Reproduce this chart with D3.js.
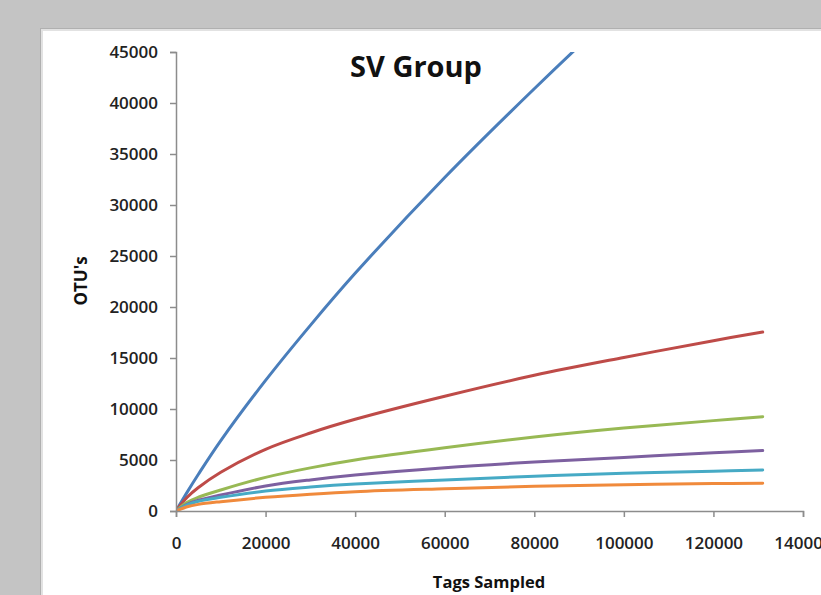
<!DOCTYPE html>
<html>
<head>
<meta charset="utf-8">
<script src="https://cdnjs.cloudflare.com/ajax/libs/d3/7.8.5/d3.min.js"></script>
<style>
  html, body { margin: 0; background: #c4c4c4; overflow: hidden; }
  svg { display: block; overflow: hidden; }
</style>
</head>
<body>
<script>
// tags sampled (x) and OTU counts per sample curve
const tags   = [0, 2500, 5000, 10000, 20000, 30000, 40000, 60000, 80000, 100000, 120000, 131000];
const blue   = [0, 1850, 3600, 6900, 12800, 18200, 23300, 32700, 41400, 49700, 57700, 62000];
const red    = [0, 1350, 2300, 3800, 6050, 7650, 8990, 11250, 13300, 15050, 16700, 17550];
const green  = [0, 850, 1350, 2060, 3300, 4230, 5000, 6200, 7250, 8130, 8860, 9250];
const purple = [0, 650, 1050, 1570, 2450, 3050, 3530, 4250, 4800, 5250, 5700, 5920];
const teal   = [0, 600, 950, 1340, 1960, 2350, 2650, 3050, 3400, 3700, 3900, 4020];
const orange = [0, 420, 650, 915, 1340, 1650, 1895, 2180, 2420, 2580, 2690, 2730];

const yTicks = [0, 5000, 10000, 15000, 20000, 25000, 30000, 35000, 40000, 45000];
const xTicks = [0, 20000, 40000, 60000, 80000, 100000, 120000, 140000];

const series = [
  {values: blue,   color: "#4a7ebb"},
  {values: red,    color: "#be4b48"},
  {values: green,  color: "#98b954"},
  {values: purple, color: "#7d60a0"},
  {values: teal,   color: "#46aac5"},
  {values: orange, color: "#f08a3c"}
];

const w = 821;
const h = 595;
const plotL = 176, plotR = 803, plotT = 52, plotB = 511;

const svg = d3.select("body").append("svg")
  .attr("width", w)
  .attr("height", h);

// white chart panel (runs off the right and bottom edges)
svg.append("rect")
  .attr("x", 40.5).attr("y", 28.5)
  .attr("width", w - 20).attr("height", h)
  .attr("fill", "#ffffff")
  .attr("stroke", "#b0b0b0")
  .attr("stroke-width", 1);
svg.append("rect")
  .attr("x", 41).attr("y", 29)
  .attr("width", w).attr("height", 2)
  .attr("fill", "#e2e2e2");
svg.append("rect")
  .attr("x", 41).attr("y", 29)
  .attr("width", 2).attr("height", h)
  .attr("fill", "#e2e2e2");

const xScale = d3.scaleLinear().domain([0, 140000]).range([plotL, plotR]);
const yScale = d3.scaleLinear().domain([0, 45000]).range([plotB, plotT]);

svg.append("defs").append("clipPath").attr("id", "plot")
  .append("rect")
  .attr("x", plotL).attr("y", plotT)
  .attr("width", plotR - plotL).attr("height", plotB - plotT);

const line = d3.line()
  .x((d, i) => xScale(tags[i]))
  .y(d => yScale(d))
  .curve(d3.curveCatmullRom.alpha(0.5));

svg.append("g")
  .attr("clip-path", "url(#plot)")
  .selectAll("path")
  .data(series)
  .enter()
  .append("path")
  .attr("d", d => line(d.values))
  .attr("fill", "none")
  .attr("stroke", d => d.color)
  .attr("stroke-width", 3)
  .attr("stroke-linecap", "round");

const xAxis = d3.axisBottom(xScale)
  .tickValues(xTicks)
  .tickFormat(d3.format("d"))
  .tickSize(6)
  .tickPadding(20);
const gx = svg.append("g")
  .attr("transform", "translate(0," + plotB + ")")
  .call(xAxis);

const yAxis = d3.axisLeft(yScale)
  .tickValues(yTicks)
  .tickFormat(d3.format("d"))
  .tickSize(6)
  .tickPadding(12);
const gy = svg.append("g")
  .attr("transform", "translate(" + plotL + ",0)")
  .call(yAxis);

[gx, gy].forEach(g => {
  g.select(".domain").attr("stroke", "#8c8c8c").attr("stroke-width", 1.5);
  g.selectAll(".tick line").attr("stroke", "#8c8c8c").attr("stroke-width", 1.5);
  g.selectAll(".tick text")
    .attr("fill", "#222")
    .style("font-family", "'Open Sans', sans-serif")
    .style("font-size", "17px")
    .style("font-weight", "600");
});

svg.append("text")
  .attr("x", 416).attr("y", 77)
  .attr("text-anchor", "middle")
  .style("font-family", "'Open Sans', sans-serif")
  .style("font-size", "29px")
  .style("font-weight", "bold")
  .attr("fill", "#111")
  .text("SV Group");

svg.append("text")
  .attr("x", 489).attr("y", 588)
  .attr("text-anchor", "middle")
  .style("font-family", "'Open Sans', sans-serif")
  .style("font-size", "16.5px")
  .style("font-weight", "bold")
  .attr("fill", "#111")
  .text("Tags Sampled");

svg.append("text")
  .attr("transform", "translate(87,281) rotate(-90)")
  .attr("text-anchor", "middle")
  .style("font-family", "'Open Sans', sans-serif")
  .style("font-size", "17px")
  .style("font-weight", "bold")
  .attr("fill", "#111")
  .text("OTU's");
</script>
</body>
</html>
